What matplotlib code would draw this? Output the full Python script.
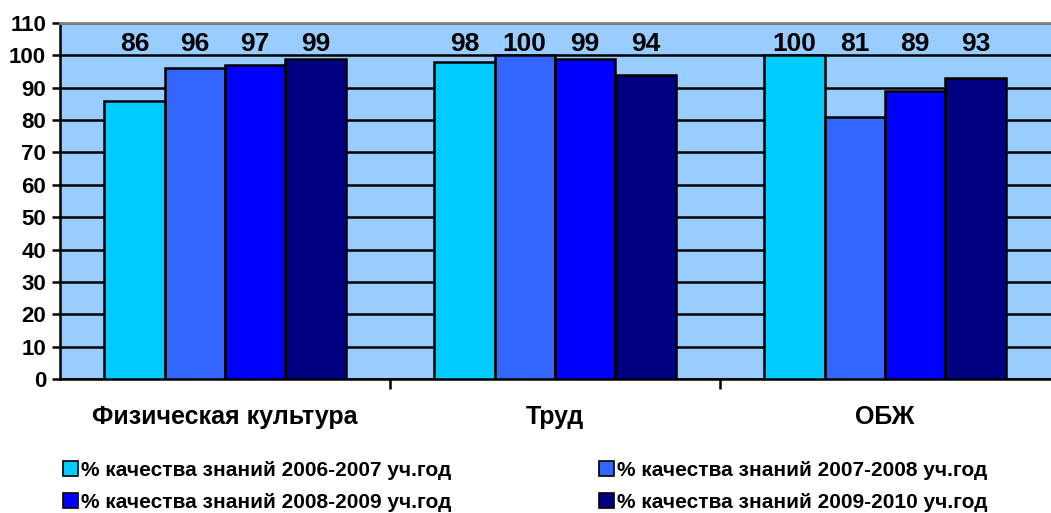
import numpy as np
import matplotlib
matplotlib.use('Agg')
import matplotlib.pyplot as plt

categories = ['Физическая культура', 'Труд', 'ОБЖ']
series_names = ['% качества знаний 2006-2007 уч.год',
                '% качества знаний 2007-2008 уч.год',
                '% качества знаний 2008-2009 уч.год',
                '% качества знаний 2009-2010 уч.год']
y2006 = [86, 98, 100]
y2007 = [96, 100, 81]
y2008 = [97, 99, 89]
y2009 = [99, 94, 93]
colors = ['#00CCFF', '#3366FF', '#0000FF', '#000080']

plt.rcParams['font.family'] = ['Liberation Sans', 'DejaVu Sans']
plt.rcParams['font.weight'] = 'bold'

fig = plt.figure(figsize=(10.51, 5.13), dpi=100)
ax = fig.add_axes([60 / 1051, 1 - 379 / 513, 991 / 1051, 356 / 513])
ax.set_facecolor('#99CCFF')

x = np.arange(len(categories))
width = 0.183
data = [y2006, y2007, y2008, y2009]
for i, vals in enumerate(data):
    pos = x + (i - 1.5) * width
    ax.bar(pos, vals, width, color=colors[i], edgecolor='black', linewidth=1.8,
           label=series_names[i], zorder=3)
    for p, v in zip(pos, vals):
        ax.text(p, 103.6, str(v), ha='center', va='center', fontsize=19,
                fontweight='bold')

ax.set_ylim(0, 110)
ax.set_xlim(-0.5, 2.503)
ax.set_yticks(range(0, 111, 10))
ax.yaxis.grid(True, color='black', linewidth=1.8, zorder=1)
ax.set_axisbelow(True)
ax.tick_params(axis='y', length=6, width=1.8, labelsize=16, pad=4)
ax.set_xticks([0.5, 1.5])
ax.set_xticklabels([])
ax.tick_params(axis='x', length=7, width=1.8, direction='out')
for i, c in enumerate(categories):
    ax.text(i, -11.6, c, ha='center', va='center', fontsize=18, fontweight='bold',
            transform=ax.transData)
ax.spines['top'].set_color('#808080')
ax.spines['top'].set_linewidth(2)
ax.spines['right'].set_visible(False)
ax.spines['left'].set_linewidth(1.8)
ax.spines['bottom'].set_linewidth(1.8)

handles, labels = ax.get_legend_handles_labels()
order = [0, 2, 1, 3]
leg = fig.legend([handles[k] for k in order], [labels[k] for k in order],
                 ncol=2, loc='upper left', bbox_to_anchor=(48 / 1051, 1 - 446 / 513),
                 frameon=False, fontsize=15, handlelength=0.75, handleheight=0.75,
                 handletextpad=0.15, columnspacing=7.05, labelspacing=0.62,
                 borderpad=0.2)
for h in leg.legend_handles:
    h.set_linewidth(1.2)

fig.savefig('out.png', dpi=100)
